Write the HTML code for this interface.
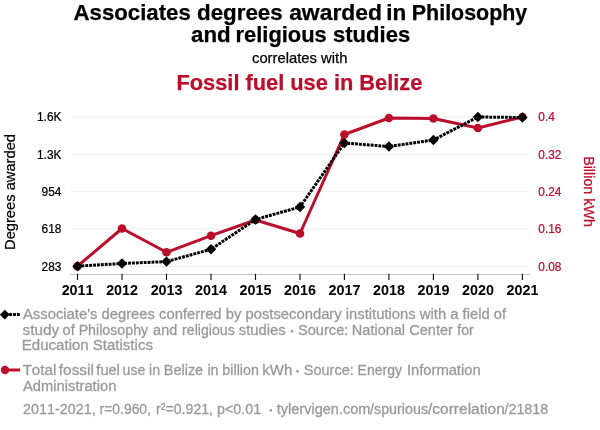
<!DOCTYPE html>
<html><head><meta charset="utf-8"><title>chart</title>
<style>
html,body{margin:0;padding:0;background:#fff;}
svg{display:block;font-kerning:none;font-family:"Liberation Sans",Arial,Helvetica,sans-serif;}
</style></head><body>
<svg width="600" height="430" viewBox="0 0 600 430">
<rect width="600" height="430" fill="#fff"/>
<text y="19.5" font-size="22" font-weight="bold" fill="#000" stroke="#000" stroke-width="0.25"><tspan x="73.57" textLength="117.18" lengthAdjust="spacingAndGlyphs">Associates</tspan> <tspan x="197.01" textLength="85.69" lengthAdjust="spacingAndGlyphs">degrees</tspan> <tspan x="289.15" textLength="92.83" lengthAdjust="spacingAndGlyphs">awarded</tspan> <tspan x="386.37" textLength="19.97" lengthAdjust="spacingAndGlyphs">in</tspan> <tspan x="411.84" textLength="115.44" lengthAdjust="spacingAndGlyphs">Philosophy</tspan></text>
<text y="41.7" font-size="22" font-weight="bold" fill="#000" stroke="#000" stroke-width="0.25"><tspan x="191.07" textLength="39.65" lengthAdjust="spacingAndGlyphs">and</tspan> <tspan x="235.61" textLength="91.12" lengthAdjust="spacingAndGlyphs">religious</tspan> <tspan x="333.00" textLength="77.21" lengthAdjust="spacingAndGlyphs">studies</tspan></text>
<text x="299.7" y="63.3" text-anchor="middle" font-size="14.8" fill="#000" stroke="#000" stroke-width="0.25">correlates with</text>
<text x="299.4" y="90.2" text-anchor="middle" font-size="21.8" font-weight="bold" fill="#ba0e2b" stroke="#ba0e2b" stroke-width="0.25">Fossil fuel use in Belize</text>

<line x1="71" x2="528" y1="117" y2="117" stroke="#ededed" stroke-width="1"/>
<line x1="71" x2="528" y1="154.35" y2="154.35" stroke="#ededed" stroke-width="1"/>
<line x1="71" x2="528" y1="191.7" y2="191.7" stroke="#ededed" stroke-width="1"/>
<line x1="71" x2="528" y1="229.05" y2="229.05" stroke="#ededed" stroke-width="1"/>
<line x1="71" x2="528" y1="266.4" y2="266.4" stroke="#ededed" stroke-width="1"/>
<line x1="70.3" x2="530" y1="274.5" y2="274.5" stroke="#c4c4c4" stroke-width="1"/>
<line x1="77.5" x2="77.5" y1="273.8" y2="279.9" stroke="#111" stroke-width="1.15"/>
<line x1="122.0" x2="122.0" y1="273.8" y2="279.9" stroke="#111" stroke-width="1.15"/>
<line x1="166.5" x2="166.5" y1="273.8" y2="279.9" stroke="#111" stroke-width="1.15"/>
<line x1="211.0" x2="211.0" y1="273.8" y2="279.9" stroke="#111" stroke-width="1.15"/>
<line x1="255.5" x2="255.5" y1="273.8" y2="279.9" stroke="#111" stroke-width="1.15"/>
<line x1="300.0" x2="300.0" y1="273.8" y2="279.9" stroke="#111" stroke-width="1.15"/>
<line x1="344.4" x2="344.4" y1="273.8" y2="279.9" stroke="#111" stroke-width="1.15"/>
<line x1="388.9" x2="388.9" y1="273.8" y2="279.9" stroke="#111" stroke-width="1.15"/>
<line x1="433.4" x2="433.4" y1="273.8" y2="279.9" stroke="#111" stroke-width="1.15"/>
<line x1="477.9" x2="477.9" y1="273.8" y2="279.9" stroke="#111" stroke-width="1.15"/>
<line x1="522.4" x2="522.4" y1="273.8" y2="279.9" stroke="#111" stroke-width="1.15"/>
<text x="61.65" y="295" font-size="15.3" font-weight="bold" textLength="31.9" lengthAdjust="spacingAndGlyphs" fill="#000">2011</text>
<text x="106.14" y="295" font-size="15.3" font-weight="bold" textLength="31.9" lengthAdjust="spacingAndGlyphs" fill="#000">2012</text>
<text x="150.63" y="295" font-size="15.3" font-weight="bold" textLength="31.9" lengthAdjust="spacingAndGlyphs" fill="#000">2013</text>
<text x="195.12" y="295" font-size="15.3" font-weight="bold" textLength="31.9" lengthAdjust="spacingAndGlyphs" fill="#000">2014</text>
<text x="239.61" y="295" font-size="15.3" font-weight="bold" textLength="31.9" lengthAdjust="spacingAndGlyphs" fill="#000">2015</text>
<text x="284.10" y="295" font-size="15.3" font-weight="bold" textLength="31.9" lengthAdjust="spacingAndGlyphs" fill="#000">2016</text>
<text x="328.59" y="295" font-size="15.3" font-weight="bold" textLength="31.9" lengthAdjust="spacingAndGlyphs" fill="#000">2017</text>
<text x="373.08" y="295" font-size="15.3" font-weight="bold" textLength="31.9" lengthAdjust="spacingAndGlyphs" fill="#000">2018</text>
<text x="417.57" y="295" font-size="15.3" font-weight="bold" textLength="31.9" lengthAdjust="spacingAndGlyphs" fill="#000">2019</text>
<text x="462.06" y="295" font-size="15.3" font-weight="bold" textLength="31.9" lengthAdjust="spacingAndGlyphs" fill="#000">2020</text>
<text x="506.55" y="295" font-size="15.3" font-weight="bold" textLength="31.9" lengthAdjust="spacingAndGlyphs" fill="#000">2021</text>
<text transform="translate(61.4,121.3) scale(0.965,1)" text-anchor="end" font-size="12.3" fill="#000" stroke="#000" stroke-width="0.25">1.6K</text>
<text transform="translate(61.4,158.7) scale(0.965,1)" text-anchor="end" font-size="12.3" fill="#000" stroke="#000" stroke-width="0.25">1.3K</text>
<text transform="translate(61.4,196.0) scale(0.965,1)" text-anchor="end" font-size="12.3" fill="#000" stroke="#000" stroke-width="0.25">954</text>
<text transform="translate(61.4,233.4) scale(0.965,1)" text-anchor="end" font-size="12.3" fill="#000" stroke="#000" stroke-width="0.25">618</text>
<text transform="translate(61.4,270.7) scale(0.965,1)" text-anchor="end" font-size="12.3" fill="#000" stroke="#000" stroke-width="0.25">283</text>
<text transform="translate(538.3,121.3) scale(0.965,1)" text-anchor="start" font-size="12.3" fill="#ba0e2b" stroke="#ba0e2b" stroke-width="0.25">0.4</text>
<text transform="translate(538.3,158.7) scale(0.965,1)" text-anchor="start" font-size="12.3" fill="#ba0e2b" stroke="#ba0e2b" stroke-width="0.25">0.32</text>
<text transform="translate(538.3,196.0) scale(0.965,1)" text-anchor="start" font-size="12.3" fill="#ba0e2b" stroke="#ba0e2b" stroke-width="0.25">0.24</text>
<text transform="translate(538.3,233.4) scale(0.965,1)" text-anchor="start" font-size="12.3" fill="#ba0e2b" stroke="#ba0e2b" stroke-width="0.25">0.16</text>
<text transform="translate(538.3,270.7) scale(0.965,1)" text-anchor="start" font-size="12.3" fill="#ba0e2b" stroke="#ba0e2b" stroke-width="0.25">0.08</text>
<text transform="translate(14.8,192) rotate(-90)" text-anchor="middle" font-size="14.7" fill="#000" stroke="#000" stroke-width="0.25">Degrees awarded</text>
<text transform="translate(583.8,191.5) rotate(90)" text-anchor="middle" font-size="14.3" fill="#ba0e2b" stroke="#ba0e2b" stroke-width="0.25">Billion kWh</text>
<polyline points="77.5,266.2 122.0,228.5 166.5,252.3 211.0,235.7 255.5,220.0 300.0,233.5 344.4,134.5 388.9,118.0 433.4,118.5 477.9,128.0 522.4,117.0" fill="none" stroke="#ba0e2b" stroke-width="3" stroke-linejoin="round"/>
<circle cx="77.5" cy="266.2" r="4.3" fill="#ba0e2b"/>
<circle cx="122.0" cy="228.5" r="4.3" fill="#ba0e2b"/>
<circle cx="166.5" cy="252.3" r="4.3" fill="#ba0e2b"/>
<circle cx="211.0" cy="235.7" r="4.3" fill="#ba0e2b"/>
<circle cx="255.5" cy="220.0" r="4.3" fill="#ba0e2b"/>
<circle cx="300.0" cy="233.5" r="4.3" fill="#ba0e2b"/>
<circle cx="344.4" cy="134.5" r="4.3" fill="#ba0e2b"/>
<circle cx="388.9" cy="118.0" r="4.3" fill="#ba0e2b"/>
<circle cx="433.4" cy="118.5" r="4.3" fill="#ba0e2b"/>
<circle cx="477.9" cy="128.0" r="4.3" fill="#ba0e2b"/>
<circle cx="522.4" cy="117.0" r="4.3" fill="#ba0e2b"/>
<polyline points="77.5,266.2 122.0,263.5 166.5,261.6 211.0,249.3 255.5,219.5 300.0,207.0 344.4,143.0 388.9,146.5 433.4,140.0 477.9,117.0 522.4,117.5" fill="none" stroke="#000" stroke-width="3" stroke-dasharray="2.9,1.0" stroke-linejoin="round"/>
<path d="M77.5,261.0 L82.7,266.2 L77.5,271.4 L72.3,266.2 Z" fill="#000"/>
<path d="M122.0,258.3 L127.2,263.5 L122.0,268.7 L116.8,263.5 Z" fill="#000"/>
<path d="M166.5,256.4 L171.7,261.6 L166.5,266.8 L161.3,261.6 Z" fill="#000"/>
<path d="M211.0,244.1 L216.2,249.3 L211.0,254.5 L205.8,249.3 Z" fill="#000"/>
<path d="M255.5,214.3 L260.7,219.5 L255.5,224.7 L250.3,219.5 Z" fill="#000"/>
<path d="M300.0,201.8 L305.2,207.0 L300.0,212.2 L294.8,207.0 Z" fill="#000"/>
<path d="M344.4,137.8 L349.6,143.0 L344.4,148.2 L339.2,143.0 Z" fill="#000"/>
<path d="M388.9,141.3 L394.1,146.5 L388.9,151.7 L383.7,146.5 Z" fill="#000"/>
<path d="M433.4,134.8 L438.6,140.0 L433.4,145.2 L428.2,140.0 Z" fill="#000"/>
<path d="M477.9,111.8 L483.1,117.0 L477.9,122.2 L472.7,117.0 Z" fill="#000"/>
<path d="M522.4,112.3 L527.6,117.5 L522.4,122.7 L517.2,117.5 Z" fill="#000"/>
<line x1="5.3" x2="19.9" y1="314.6" y2="314.6" stroke="#000" stroke-width="3" stroke-dasharray="2.8,1.1"/>
<path d="M4.8,309.7 L9.7,314.6 L4.8,319.5 L-0.1,314.6 Z" fill="#000"/>
<text x="23" y="319" font-size="15.4" textLength="483.2" lengthAdjust="spacingAndGlyphs" fill="#999" stroke="#999" stroke-width="0.3">Associate's degrees conferred by postsecondary institutions with a field of</text>
<text y="334.8" font-size="15.4" font-weight="normal" fill="#999" stroke="#999" stroke-width="0.3"><tspan x="22.50" textLength="36.54" lengthAdjust="spacingAndGlyphs">study</tspan> <tspan x="62.61" textLength="12.16" lengthAdjust="spacingAndGlyphs">of</tspan> <tspan x="78.65" textLength="69.50" lengthAdjust="spacingAndGlyphs">Philosophy</tspan> <tspan x="153.11" textLength="24.06" lengthAdjust="spacingAndGlyphs">and</tspan> <tspan x="182.08" textLength="52.65" lengthAdjust="spacingAndGlyphs">religious</tspan> <tspan x="238.72" textLength="47.08" lengthAdjust="spacingAndGlyphs">studies</tspan> <tspan x="289.44" stroke-width="0.75">·</tspan> <tspan x="297.99" textLength="50.36" lengthAdjust="spacingAndGlyphs">Source:</tspan> <tspan x="351.82" textLength="53.29" lengthAdjust="spacingAndGlyphs">National</tspan> <tspan x="409.29" textLength="43.52" lengthAdjust="spacingAndGlyphs">Center</tspan> <tspan x="457.27" textLength="16.43" lengthAdjust="spacingAndGlyphs">for</tspan></text>
<text y="350" font-size="15.4" font-weight="normal" fill="#999" stroke="#999" stroke-width="0.3"><tspan x="21.78" textLength="66.97" lengthAdjust="spacingAndGlyphs">Education</tspan> <tspan x="92.67" textLength="60.30" lengthAdjust="spacingAndGlyphs">Statistics</tspan></text>
<line x1="5" x2="20.1" y1="370" y2="370" stroke="#ba0e2b" stroke-width="3"/>
<circle cx="5" cy="370" r="4.2" fill="#ba0e2b"/>
<text y="375" font-size="15.4" font-weight="normal" fill="#999" stroke="#999" stroke-width="0.3"><tspan x="22.63" textLength="33.64" lengthAdjust="spacingAndGlyphs">Total</tspan> <tspan x="58.75" textLength="35.23" lengthAdjust="spacingAndGlyphs">fossil</tspan> <tspan x="96.36" textLength="23.45" lengthAdjust="spacingAndGlyphs">fuel</tspan> <tspan x="122.59" textLength="22.65" lengthAdjust="spacingAndGlyphs">use</tspan> <tspan x="149.08" textLength="11.03" lengthAdjust="spacingAndGlyphs">in</tspan> <tspan x="163.83" textLength="39.30" lengthAdjust="spacingAndGlyphs">Belize</tspan> <tspan x="207.38" textLength="11.03" lengthAdjust="spacingAndGlyphs">in</tspan> <tspan x="222.37" textLength="36.54" lengthAdjust="spacingAndGlyphs">billion</tspan> <tspan x="262.33" textLength="29.99" lengthAdjust="spacingAndGlyphs">kWh</tspan> <tspan x="295.04" stroke-width="0.75">·</tspan> <tspan x="303.79" textLength="50.05" lengthAdjust="spacingAndGlyphs">Source:</tspan> <tspan x="357.56" textLength="44.45" lengthAdjust="spacingAndGlyphs">Energy</tspan> <tspan x="406.88" textLength="73.78" lengthAdjust="spacingAndGlyphs">Information</tspan></text>
<text y="390.6" font-size="15.4" font-weight="normal" fill="#999" stroke="#999" stroke-width="0.3"><tspan x="23.00" textLength="93.37" lengthAdjust="spacingAndGlyphs">Administration</tspan></text>
<text y="414" font-size="15.4" font-weight="normal" fill="#999" stroke="#999" stroke-width="0.3"><tspan x="23.05" textLength="72.75" lengthAdjust="spacingAndGlyphs">2011-2021,</tspan> <tspan x="99.60" textLength="51.37" lengthAdjust="spacingAndGlyphs">r=0.960,</tspan> <tspan x="156.08" textLength="56.96" lengthAdjust="spacingAndGlyphs">r²=0.921,</tspan> <tspan x="217.07" textLength="44.14" lengthAdjust="spacingAndGlyphs">p&lt;0.01</tspan> <tspan x="268.19" stroke-width="0.75">·</tspan> <tspan x="276.76" textLength="93.67" lengthAdjust="spacingAndGlyphs">tylervigen.com</tspan> <tspan x="370.00" textLength="58.04" lengthAdjust="spacingAndGlyphs">/spurious</tspan> <tspan x="428.00" textLength="76.77" lengthAdjust="spacingAndGlyphs">/correlation</tspan> <tspan x="504.50" textLength="43.65" lengthAdjust="spacingAndGlyphs">/21818</tspan></text>
</svg></body></html>
